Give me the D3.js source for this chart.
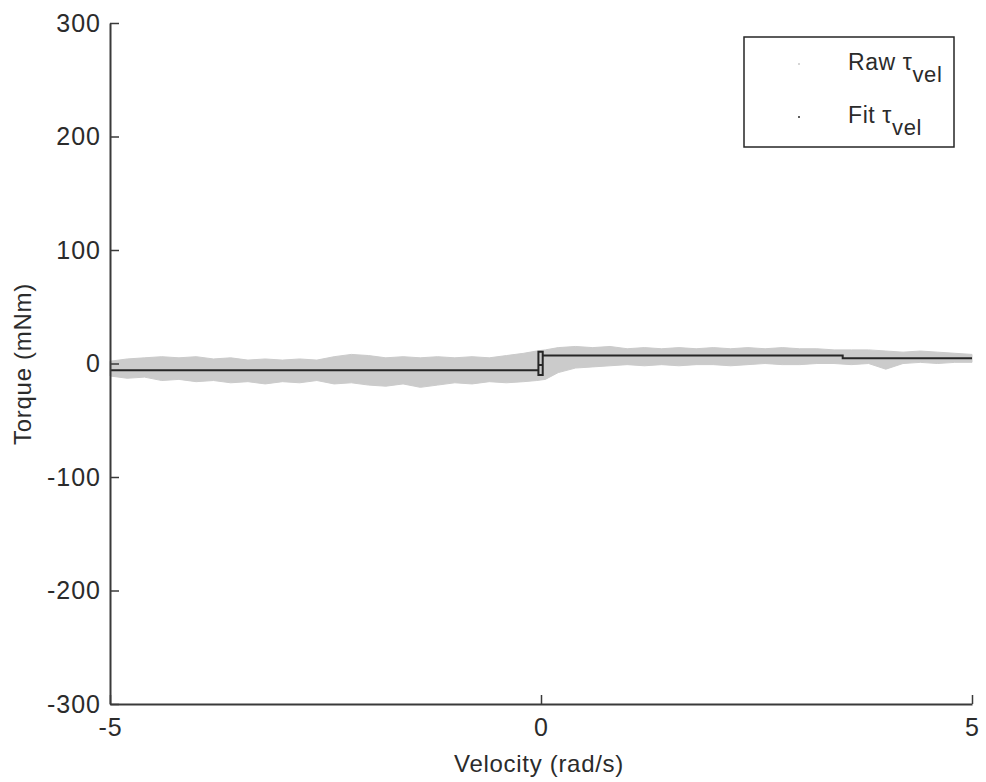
<!DOCTYPE html>
<html>
<head>
<meta charset="utf-8">
<script src="https://cdn.jsdelivr.net/npm/d3@7"></script>
<style>
body{margin:0;background:#fff;}
svg{display:block;}
text{font-family:"Liberation Sans",Arial,sans-serif;fill:#2b2b2b;}
</style>
</head>
<body>
<svg id="chart" width="986" height="782"></svg>
<script>
// Raw torque band envelope (velocity rad/s, upper/lower torque mNm)
const rawVel   = [-5.0,-4.8,-4.6,-4.4,-4.2,-4.0,-3.8,-3.6,-3.4,-3.2,-3.0,-2.8,-2.6,-2.4,-2.2,-2.0,-1.8,-1.6,-1.4,-1.2,-1.0,-0.8,-0.6,-0.4,-0.2,-0.05,
                  0.05,0.2,0.4,0.6,0.8,1.0,1.2,1.4,1.6,1.8,2.0,2.2,2.4,2.6,2.8,3.0,3.2,3.4,3.6,3.8,4.0,4.2,4.4,4.6,4.8,5.0];
const rawUpper = [2,4,5,6,5,6,4,5,3,4,3,4,3,6,8,7,5,6,5,6,5,6,5,7,9,11,
                  12,14,15,14,15,13,14,13,14,13,14,13,14,13,14,13,13,12,12,12,11,10,11,10,9,8];
const rawLower = [-11,-13,-12,-15,-14,-16,-15,-17,-16,-18,-16,-17,-15,-18,-17,-19,-20,-18,-21,-19,-17,-18,-16,-17,-16,-15,
                  -14,-8,-4,-3,-2,-1,-2,-1,-2,-1,-1,-2,-1,0,-1,-1,0,0,-1,0,-5,0,1,0,1,1];

// Fit torque (polyline pieces)
const fitNegVel = [-5.0,-0.03,-0.03,0.02,0.02,-0.03,-0.03];
const fitNegT   = [-6,-6,10.4,10.4,-10.1,-10.1,-6];
const fitMidVel = [-0.03,0.02];
const fitMidT   = [-1.3,-1.3];
const fitPosVel = [0.02,3.5,3.5,5.0];
const fitPosT   = [7,7,4.6,4.6];

const xTicks = [-5,0,5];
const yTicks = [-300,-200,-100,0,100,200,300];
const xLabel = "Velocity (rad/s)";
const yLabel = "Torque (mNm)";

const svg = d3.select("#chart");
const L = 110, R = 972, T = 23, B = 704;
const x = d3.scaleLinear().domain([-5,5]).range([L,R]);
const y = d3.scaleLinear().domain([-300,300]).range([B,T]);

// raw band
const band = rawVel.map((v,i)=>({v,u:rawUpper[i],l:rawLower[i]}));
svg.append("path").datum(band)
  .attr("d", d3.area().x(d=>x(d.v)).y0(d=>y(d.l)).y1(d=>y(d.u)))
  .attr("fill","#cbcbcb").attr("stroke","#cbcbcb").attr("stroke-width",1);

// fit lines
const line = d3.line().x(d=>x(d[0])).y(d=>y(d[1]));
[[fitNegVel,fitNegT],[fitMidVel,fitMidT],[fitPosVel,fitPosT]].forEach(([vs,ts])=>{
  svg.append("path").datum(vs.map((v,i)=>[v,ts[i]]))
    .attr("d", line).attr("fill","none").attr("stroke","#262626").attr("stroke-width",2);
});

// axes
const axisColor = "#3a3a3a";
const fmt = d => String(d); // ASCII hyphen minus like the reference
const gx = svg.append("g").attr("transform",`translate(0,${B})`)
  .call(d3.axisBottom(x).tickValues(xTicks).tickSizeInner(-9).tickSizeOuter(0).tickPadding(14).tickFormat(fmt));
const gy = svg.append("g").attr("transform",`translate(${L},0)`)
  .call(d3.axisLeft(y).tickValues(yTicks).tickSizeInner(-9).tickSizeOuter(0).tickPadding(9).tickFormat(fmt));
[gx,gy].forEach(g=>{
  g.select(".domain").attr("stroke",axisColor).attr("stroke-width",2);
  g.selectAll(".tick line").attr("stroke",axisColor).attr("stroke-width",1.5);
  g.selectAll(".tick text").attr("font-size",25).attr("letter-spacing",1).attr("fill","#2b2b2b")
    .attr("font-family",'"Liberation Sans",Arial,sans-serif');
});
gx.selectAll(".tick text").attr("dy","0.71em");

// axis labels
svg.append("text").attr("x",539).attr("y",772).attr("text-anchor","middle")
  .attr("font-size",24).attr("letter-spacing",0.7).text(xLabel);
svg.append("text").attr("transform","translate(31,364) rotate(-90)").attr("text-anchor","middle")
  .attr("font-size",24).attr("letter-spacing",0.7).text(yLabel);

// legend
const lg = svg.append("g");
lg.append("rect").attr("x",744).attr("y",37).attr("width",210).attr("height",110)
  .attr("fill","#fff").attr("stroke","#262626").attr("stroke-width",1.5);
lg.append("circle").attr("cx",799).attr("cy",64).attr("r",1).attr("fill","#c8c8c8");
lg.append("circle").attr("cx",799).attr("cy",117).attr("r",1).attr("fill","#2a2a2a");
const legendItems = [["Raw ","vel",70],["Fit ","vel",123]];
legendItems.forEach(([lab,sub,by])=>{
  const t = lg.append("text").attr("x",848).attr("y",by).attr("font-size",23).attr("letter-spacing",0.6);
  t.append("tspan").text(lab + "\u03C4");
  t.append("tspan").attr("dy",12).attr("font-size",22).text(sub);
});
</script>
</body>
</html>
